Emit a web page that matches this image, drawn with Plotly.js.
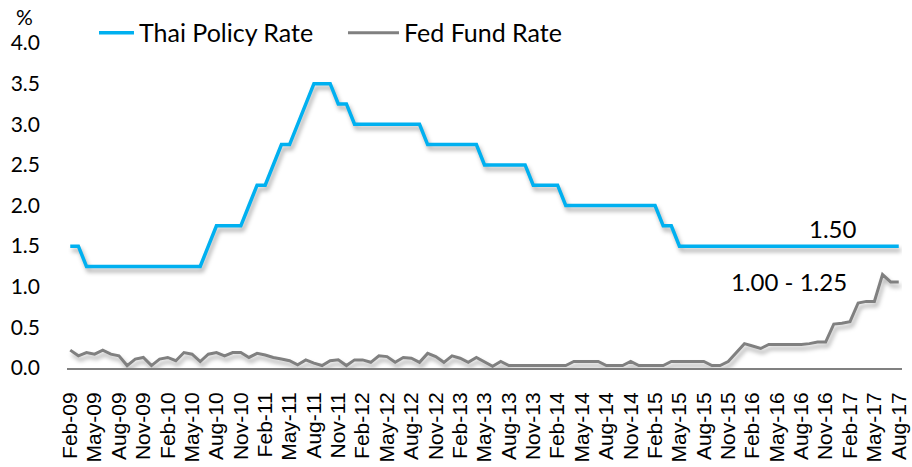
<!DOCTYPE html>
<html>
<head>
<meta charset="utf-8">
<script src="https://cdn.plot.ly/plotly-3.0.1.min.js"></script>
<style>
html,body{margin:0;padding:0;background:#fff;}
#chart{width:912px;height:467px;}
#chart .scatterlayer path.js-line{filter:drop-shadow(2px 4px 2px rgba(0,0,0,0.32));}
</style>
</head>
<body>
<div id="chart"></div>
<script>
const months = [
  "Feb-09","Mar-09","Apr-09","May-09","Jun-09","Jul-09","Aug-09","Sep-09","Oct-09","Nov-09","Dec-09",
  "Jan-10","Feb-10","Mar-10","Apr-10","May-10","Jun-10","Jul-10","Aug-10","Sep-10","Oct-10","Nov-10","Dec-10",
  "Jan-11","Feb-11","Mar-11","Apr-11","May-11","Jun-11","Jul-11","Aug-11","Sep-11","Oct-11","Nov-11","Dec-11",
  "Jan-12","Feb-12","Mar-12","Apr-12","May-12","Jun-12","Jul-12","Aug-12","Sep-12","Oct-12","Nov-12","Dec-12",
  "Jan-13","Feb-13","Mar-13","Apr-13","May-13","Jun-13","Jul-13","Aug-13","Sep-13","Oct-13","Nov-13","Dec-13",
  "Jan-14","Feb-14","Mar-14","Apr-14","May-14","Jun-14","Jul-14","Aug-14","Sep-14","Oct-14","Nov-14","Dec-14",
  "Jan-15","Feb-15","Mar-15","Apr-15","May-15","Jun-15","Jul-15","Aug-15","Sep-15","Oct-15","Nov-15","Dec-15",
  "Jan-16","Feb-16","Mar-16","Apr-16","May-16","Jun-16","Jul-16","Aug-16","Sep-16","Oct-16","Nov-16","Dec-16",
  "Jan-17","Feb-17","Mar-17","Apr-17","May-17","Jun-17","Jul-17","Aug-17"
];

const thaiPolicyRate = [
  1.5,1.5,1.25,1.25,1.25,1.25,1.25,1.25,1.25,1.25,1.25,
  1.25,1.25,1.25,1.25,1.25,1.25,1.5,1.75,1.75,1.75,1.75,2.0,
  2.25,2.25,2.5,2.75,2.75,3.0,3.25,3.5,3.5,3.5,3.25,3.25,
  3.0,3.0,3.0,3.0,3.0,3.0,3.0,3.0,3.0,2.75,2.75,2.75,
  2.75,2.75,2.75,2.75,2.5,2.5,2.5,2.5,2.5,2.5,2.25,2.25,
  2.25,2.25,2.0,2.0,2.0,2.0,2.0,2.0,2.0,2.0,2.0,2.0,
  2.0,2.0,1.75,1.75,1.5,1.5,1.5,1.5,1.5,1.5,1.5,1.5,
  1.5,1.5,1.5,1.5,1.5,1.5,1.5,1.5,1.5,1.5,1.5,1.5,
  1.5,1.5,1.5,1.5,1.5,1.5,1.5,1.5
];

const fedFundRate = [
  0.22,0.15,0.19,0.17,0.22,0.17,0.15,0.03,0.11,0.13,0.03,
  0.11,0.13,0.09,0.19,0.17,0.08,0.17,0.19,0.15,0.19,0.19,0.13,
  0.18,0.16,0.13,0.11,0.09,0.04,0.10,0.06,0.03,0.09,0.10,0.03,
  0.10,0.10,0.07,0.15,0.14,0.07,0.13,0.12,0.07,0.18,0.14,0.07,
  0.15,0.12,0.07,0.13,0.07,0.02,0.08,0.03,0.03,0.03,0.03,0.03,
  0.03,0.03,0.03,0.08,0.08,0.08,0.08,0.03,0.03,0.03,0.08,0.03,
  0.03,0.03,0.03,0.08,0.08,0.08,0.08,0.08,0.03,0.03,0.08,0.19,
  0.30,0.27,0.24,0.29,0.29,0.29,0.29,0.29,0.30,0.32,0.32,0.54,
  0.55,0.57,0.80,0.82,0.82,1.15,1.06,1.06
];

const tickLabels = [
  "Feb-09","May-09","Aug-09","Nov-09","Feb-10","May-10","Aug-10","Nov-10",
  "Feb-11","May-11","Aug-11","Nov-11","Feb-12","May-12","Aug-12","Nov-12",
  "Feb-13","May-13","Aug-13","Nov-13","Feb-14","May-14","Aug-14","Nov-14",
  "Feb-15","May-15","Aug-15","Nov-15","Feb-16","May-16","Aug-16","Nov-16",
  "Feb-17","May-17","Aug-17"
];

const yTicks = [0,0.5,1.0,1.5,2.0,2.5,3.0,3.5,4.0];

const seriesNames = ["Thai Policy Rate","Fed Fund Rate"];
const thaiLabel = "1.50";
const fedLabel = "1.00 - 1.25";

const traces = [
  {
    x: months, y: thaiPolicyRate, name: seriesNames[0], type: 'scatter', mode: 'lines',
    line: {color: '#00B0F0', width: 3.5}
  },
  {
    x: months, y: fedFundRate, name: seriesNames[1], type: 'scatter', mode: 'lines',
    line: {color: '#808080', width: 3}
  }
];

const baseFont = 'Lato, "Noto Sans", sans-serif';

const layout = {
  width: 912, height: 467,
  margin: {l: 67, r: 10, t: 43, b: 99, pad: 0},
  paper_bgcolor: '#ffffff', plot_bgcolor: '#ffffff',
  font: {family: baseFont, color: '#000000', size: 20},
  xaxis: {
    type: 'category',
    range: [-0.4, 102.4],
    tickmode: 'array', tickvals: tickLabels, ticktext: tickLabels,
    tickangle: -90,
    tickfont: {family: '"Liberation Sans", Arial, sans-serif', size: 21, color: '#000'},
    showgrid: false, zeroline: false,
    showline: true, linecolor: '#808080', linewidth: 2,
    ticks: '', ticklabelstandoff: 14,
    fixedrange: true
  },
  yaxis: {
    range: [0, 4],
    tickmode: 'array', tickvals: yTicks, tickformat: '.1f',
    tickfont: {family: baseFont, size: 21, color: '#000'},
    showgrid: false, zeroline: false, showline: false,
    ticks: '', ticklabelstandoff: 26,
    fixedrange: true
  },
  showlegend: true,
  legend: {
    orientation: 'h',
    x: 0.0383, xanchor: 'left',
    y: 1.031, yanchor: 'middle',
    font: {family: baseFont, size: 25, color: '#000'},
    entrywidth: 220, entrywidthmode: 'pixels',
    bgcolor: 'rgba(0,0,0,0)', borderwidth: 0
  },
  annotations: [
    {xref: 'x', yref: 'y', x: 97.1, y: 1.72, text: thaiLabel, showarrow: false,
     xanchor: 'right', yanchor: 'middle', font: {family: baseFont, size: 24, color: '#000'}},
    {xref: 'x', yref: 'y', x: 95.9, y: 1.07, text: fedLabel, showarrow: false,
     xanchor: 'right', yanchor: 'middle', font: {family: baseFont, size: 24, color: '#000'}},
    {xref: 'paper', yref: 'paper', x: -0.0503, y: 1.08, text: '%', showarrow: false,
     xanchor: 'center', yanchor: 'middle', font: {family: baseFont, size: 21, color: '#000'}}
  ]
};

Plotly.newPlot('chart', traces, layout, {displayModeBar: false, staticPlot: true}).then(function(){
  document.querySelectorAll('#chart .legend .legendlines path').forEach(function(p){
    p.setAttribute('d', 'M-16,0h51');
  });
});
</script>
</body>
</html>
